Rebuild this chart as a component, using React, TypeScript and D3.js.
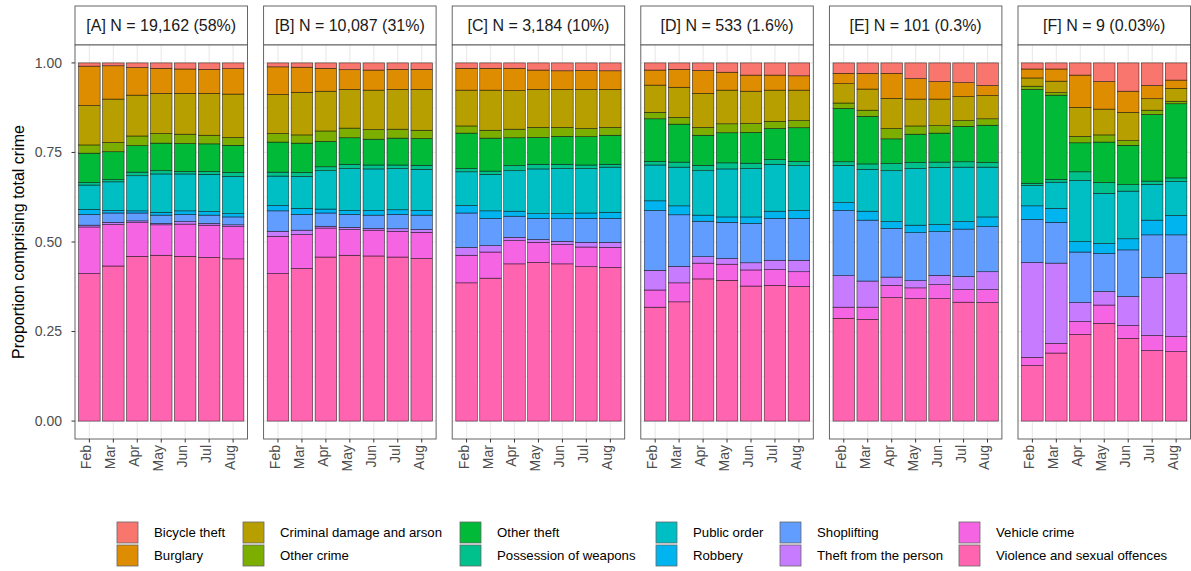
import React from 'react';
import * as d3 from 'd3';

// Order follows the legend: first entry is drawn on top of each bar
const crimeTypes = [
  'Bicycle theft',
  'Burglary',
  'Criminal damage and arson',
  'Other crime',
  'Other theft',
  'Possession of weapons',
  'Public order',
  'Robbery',
  'Shoplifting',
  'Theft from the person',
  'Vehicle crime',
  'Violence and sexual offences',
];

const crimeColors = [
  '#F8766D', '#DE8C00', '#B79F00', '#7CAE00', '#00BA38', '#00C08B',
  '#00BFC4', '#00B4F0', '#619CFF', '#C77CFF', '#F564E3', '#FF64B0',
];

const months = ['Feb', 'Mar', 'Apr', 'May', 'Jun', 'Jul', 'Aug'];

const panelTitles = [
  '[A] N = 19,162 (58%)',
  '[B] N = 10,087 (31%)',
  '[C] N = 3,184 (10%)',
  '[D] N = 533 (1.6%)',
  '[E] N = 101 (0.3%)',
  '[F] N = 9 (0.03%)',
];

// percent share per month (rows), columns in crimeTypes order
const sharesA = [
  [0.9, 11.0, 11.0, 2.3, 8.2, 0.7, 6.8, 1.4, 3.0, 0.5, 13.0, 41.2],
  [0.8, 9.3, 12.1, 2.6, 7.8, 0.6, 8.0, 0.7, 2.6, 0.6, 11.6, 43.3],
  [1.3, 7.7, 11.4, 2.7, 7.4, 1.0, 9.8, 0.6, 2.2, 0.5, 9.4, 46.0],
  [1.5, 7.0, 11.2, 2.7, 7.7, 0.9, 10.7, 0.8, 2.3, 0.4, 8.5, 46.3],
  [1.7, 6.8, 11.4, 2.6, 7.8, 0.7, 10.3, 1.0, 2.0, 0.7, 9.0, 46.0],
  [1.8, 6.7, 11.7, 2.4, 7.7, 0.8, 10.4, 1.0, 2.3, 0.5, 9.0, 45.7],
  [1.6, 7.1, 12.1, 2.2, 7.6, 1.1, 10.4, 0.9, 2.2, 0.5, 9.0, 45.3],
];

const sharesB = [
  [1.1, 7.7, 10.9, 2.4, 8.4, 1.1, 8.2, 1.5, 5.7, 1.4, 10.4, 41.2],
  [1.2, 7.0, 11.9, 2.3, 8.2, 1.1, 8.9, 1.7, 4.4, 1.2, 9.5, 42.6],
  [1.5, 6.4, 11.1, 2.9, 7.1, 1.1, 10.7, 1.1, 3.7, 0.5, 8.1, 45.8],
  [1.9, 5.5, 10.8, 2.7, 7.4, 1.2, 11.7, 1.1, 3.6, 0.6, 7.2, 46.3],
  [2.0, 5.6, 11.0, 2.7, 7.2, 1.1, 11.6, 1.3, 3.7, 0.5, 7.2, 46.1],
  [1.8, 5.6, 11.1, 2.5, 7.5, 1.0, 11.5, 1.3, 4.0, 0.7, 7.2, 45.8],
  [1.8, 5.6, 11.4, 2.3, 7.5, 1.1, 11.5, 1.3, 4.0, 0.8, 7.3, 45.4],
];

const sharesC = [
  [1.5, 6.1, 10.0, 2.0, 9.9, 0.9, 9.4, 2.1, 9.6, 2.2, 7.7, 38.6],
  [1.5, 6.1, 11.2, 2.2, 9.2, 0.9, 10.2, 2.1, 7.6, 1.8, 7.3, 39.9],
  [1.5, 6.2, 10.8, 2.4, 7.8, 1.4, 11.3, 1.4, 5.9, 0.9, 6.5, 43.9],
  [2.0, 5.4, 10.6, 2.8, 7.5, 1.3, 12.5, 1.3, 5.9, 0.8, 5.6, 44.3],
  [2.2, 5.2, 10.6, 2.5, 7.8, 1.2, 12.6, 1.4, 6.3, 0.9, 5.4, 43.9],
  [2.1, 5.3, 10.9, 2.3, 7.9, 1.0, 12.4, 1.5, 6.7, 1.3, 5.5, 43.1],
  [2.2, 5.2, 10.6, 2.2, 8.1, 0.8, 12.6, 1.7, 6.7, 1.4, 5.6, 42.9],
];

const sharesD = [
  [2.0, 4.2, 7.6, 1.8, 11.9, 1.0, 10.0, 2.7, 16.7, 5.5, 4.8, 31.8],
  [1.8, 5.0, 8.4, 1.9, 10.6, 1.4, 10.8, 2.5, 14.4, 4.6, 5.3, 33.3],
  [2.1, 6.4, 9.5, 2.2, 8.4, 1.5, 12.4, 1.7, 9.9, 1.8, 4.4, 39.7],
  [2.6, 5.0, 9.4, 2.5, 8.4, 1.7, 13.4, 1.5, 10.1, 1.6, 4.5, 39.3],
  [3.4, 4.5, 9.0, 2.5, 8.6, 1.5, 13.5, 1.8, 11.0, 2.0, 4.5, 37.7],
  [3.4, 4.2, 8.7, 2.0, 8.7, 1.3, 13.1, 2.0, 11.7, 2.6, 4.4, 37.9],
  [3.6, 4.0, 8.5, 2.0, 9.4, 1.2, 12.5, 2.2, 11.7, 3.2, 4.1, 37.6],
];

const sharesE = [
  [2.9, 2.9, 5.4, 1.5, 14.9, 1.0, 10.4, 2.2, 18.2, 8.8, 3.1, 28.7],
  [2.9, 4.4, 5.9, 1.7, 13.3, 1.5, 11.7, 2.5, 17.0, 7.3, 3.4, 28.4],
  [2.9, 7.0, 8.4, 2.9, 6.9, 2.0, 14.2, 1.9, 13.6, 2.3, 3.4, 34.5],
  [4.4, 5.7, 7.5, 2.3, 7.9, 1.7, 15.8, 2.1, 13.4, 2.0, 3.0, 34.2],
  [5.2, 4.9, 7.4, 2.1, 8.1, 1.5, 15.9, 2.0, 12.2, 2.6, 3.9, 34.2],
  [5.5, 3.9, 6.7, 1.6, 9.9, 1.5, 15.2, 2.1, 13.2, 3.7, 3.5, 33.2],
  [6.3, 2.8, 6.5, 1.8, 10.4, 1.3, 13.9, 2.7, 12.6, 5.0, 3.6, 33.1],
];

const sharesF = [
  [1.7, 2.5, 2.3, 0.9, 26.2, 0.6, 5.7, 3.8, 12.0, 26.5, 2.3, 15.5],
  [1.7, 3.4, 3.2, 0.7, 23.5, 0.8, 7.3, 3.9, 11.4, 22.4, 2.7, 19.0],
  [3.4, 9.0, 8.1, 1.8, 8.1, 2.4, 17.1, 2.9, 14.1, 5.3, 3.6, 24.2],
  [5.2, 7.7, 7.2, 2.0, 11.3, 3.0, 14.0, 2.8, 10.6, 3.8, 5.1, 27.3],
  [7.9, 5.9, 7.9, 1.3, 11.0, 1.8, 13.3, 3.1, 13.0, 8.1, 3.6, 23.1],
  [6.3, 3.7, 3.2, 1.2, 18.6, 0.9, 10.0, 4.1, 11.9, 16.2, 4.2, 19.7],
  [4.8, 2.3, 3.6, 0.7, 20.7, 1.0, 9.5, 5.4, 10.8, 17.6, 4.2, 19.4],
];

const panelShares = [sharesA, sharesB, sharesC, sharesD, sharesE, sharesF];

const yTicks = [0, 0.25, 0.5, 0.75, 1];
const yMinor = [0.125, 0.375, 0.625, 0.875];

const FONT = '"Liberation Sans", Arial, Helvetica, sans-serif';
const W = 1191;
const H = 571;

const panelX0 = 75;
const panelW = 172.5;
const panelStep = 188.6;
const stripTop = 6;
const plotTop = 45;
const plotBottom = 439;

// legend key columns (2 rows each, filled by column)
const legendColX = [117, 243, 460, 656, 780, 959];
const legendRowY = [522, 545];

const colorOf = d3.scaleOrdinal<string, string>().domain(crimeTypes).range(crimeColors);

export default function App() {
  const y = d3.scaleLinear().domain([-0.05, 1.05]).range([plotBottom, plotTop]);
  const x = d3.scaleBand<string>().domain(months).range([0, panelW]).paddingInner(0.1).paddingOuter(0.15);

  // bottom of stack first
  const stackKeys = [...crimeTypes].reverse();
  const stack = d3.stack<Record<string, number>>().keys(stackKeys).offset(d3.stackOffsetExpand);

  const panels = panelShares.map((rows) => {
    const table = rows.map((vals) => {
      const row: Record<string, number> = {};
      crimeTypes.forEach((c, i) => (row[c] = vals[i]));
      return row;
    });
    return stack(table);
  });

  return (
    <div style={{ position: 'absolute', left: 0, top: 0 }}>
      <svg width={W} height={H} style={{ display: 'block', background: '#fff' }} fontFamily={FONT}>
        {/* y axis title */}
        <text
          transform={`translate(18,${(plotTop + plotBottom) / 2}) rotate(-90)`}
          textAnchor="middle"
          dy="0.35em"
          fontSize={16}
          fill="#000"
        >
          Proportion comprising total crime
        </text>

        {/* y axis ticks + labels */}
        {yTicks.map((t) => (
          <g key={t}>
            <line x1={panelX0 - 3.5} x2={panelX0} y1={y(t)} y2={y(t)} stroke="#333" strokeWidth={1} />
            <text x={panelX0 - 13} y={y(t)} dy="0.35em" textAnchor="end" fontSize={14} fill="#4d4d4d">
              {d3.format('.2f')(t)}
            </text>
          </g>
        ))}

        {panels.map((series, pi) => {
          const px = panelX0 + pi * panelStep;
          return (
            <g key={pi} transform={`translate(${px},0)`}>
              {/* strip */}
              <rect x={0} y={stripTop} width={panelW} height={plotTop - stripTop} fill="#fff" stroke="#555" strokeWidth={0.9} />
              <text x={panelW / 2} y={(stripTop + plotTop) / 2} dy="0.35em" textAnchor="middle" fontSize={16} fill="#1a1a1a">
                {panelTitles[pi]}
              </text>

              {/* panel background + grid */}
              <rect x={0} y={plotTop} width={panelW} height={plotBottom - plotTop} fill="#fff" />
              {yMinor.map((t) => (
                <line key={`m${t}`} x1={0} x2={panelW} y1={y(t)} y2={y(t)} stroke="#ebebeb" strokeWidth={0.6} />
              ))}
              {yTicks.map((t) => (
                <line key={`g${t}`} x1={0} x2={panelW} y1={y(t)} y2={y(t)} stroke="#ebebeb" strokeWidth={1.2} />
              ))}
              {months.map((m) => (
                <line
                  key={`v${m}`}
                  x1={x(m)! + x.bandwidth() / 2}
                  x2={x(m)! + x.bandwidth() / 2}
                  y1={plotTop}
                  y2={plotBottom}
                  stroke="#ebebeb"
                  strokeWidth={1.2}
                />
              ))}

              {/* stacked bars */}
              {series.map((s) => (
                <g key={s.key} fill={colorOf(s.key)}>
                  {s.map((d, mi) => (
                    <rect
                      key={mi}
                      x={x(months[mi])!}
                      width={x.bandwidth()}
                      y={y(d[1])}
                      height={Math.max(0, y(d[0]) - y(d[1]))}
                      stroke="#000"
                      strokeOpacity={0.75}
                      strokeWidth={0.6}
                    />
                  ))}
                </g>
              ))}

              {/* panel border */}
              <rect x={0} y={plotTop} width={panelW} height={plotBottom - plotTop} fill="none" stroke="#555" strokeWidth={0.9} />

              {/* x axis */}
              {months.map((m) => {
                const cx = x(m)! + x.bandwidth() / 2;
                return (
                  <g key={`x${m}`}>
                    <line x1={cx} x2={cx} y1={plotBottom} y2={plotBottom + 3.5} stroke="#333" strokeWidth={1} />
                    <text
                      transform={`translate(${cx},${plotBottom + 6}) rotate(-90)`}
                      textAnchor="end"
                      dy="0.14em"
                      fontSize={14}
                      fill="#4d4d4d"
                    >
                      {m}
                    </text>
                  </g>
                );
              })}
            </g>
          );
        })}

        {/* legend */}
        {crimeTypes.map((c, i) => {
          const col = Math.floor(i / 2);
          const row = i % 2;
          const lx = legendColX[col];
          const ly = legendRowY[row];
          return (
            <g key={c}>
              <rect x={lx} y={ly} width={21} height={21} fill={colorOf(c)} stroke="#666" strokeWidth={0.8} />
              <text x={lx + 37} y={ly + 10.5} dy="0.35em" fontSize={13.2} fill="#000">
                {c}
              </text>
            </g>
          );
        })}
      </svg>
    </div>
  );
}
